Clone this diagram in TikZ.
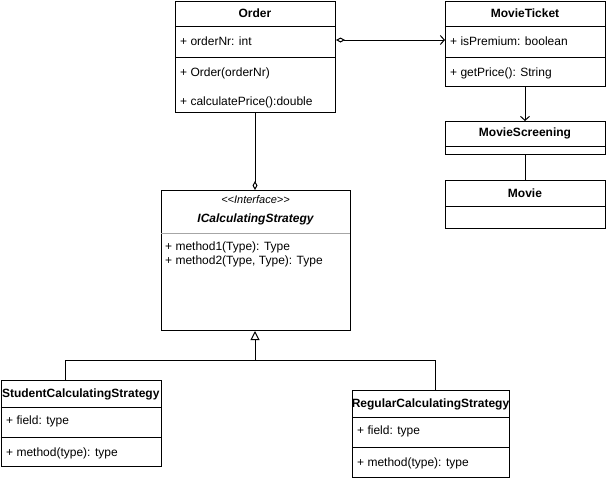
\documentclass[tikz,border=0pt]{standalone}
\usepackage{fontspec}
\setmainfont{Liberation Sans}
\usetikzlibrary{arrows.meta}
\tikzset{
  x=1pt, y=-1pt,
  umlbox/.style={draw, line width=1pt, inner sep=0pt, anchor=north west},
  sepline/.style={line width=1pt},
  graysep/.style={line width=1pt, draw=gray!70},
  title/.style={font=\fontsize{12}{14}\selectfont\bfseries, inner sep=0pt, anchor=center},
  member/.style={font=\fontsize{12}{14}\selectfont, inner sep=0pt, anchor=west},
  conn/.style={line width=1pt},
}
\begin{document}
\begin{tikzpicture}
\useasboundingbox (0,0) rectangle (606,480);
% Order
\node[umlbox, minimum width=160pt, minimum height=111.5pt] (order) at (175,0.5) {};
\draw[sepline] (175,26) -- (335,26);
\draw[sepline] (175,57) -- (335,57);
\node[title] (ordert) at (255,13) {Order};
\node[member] (orderm1) at (180,41) {+ orderNr: int};
\node[member] (orderm2) at (180,73) {+ Order(orderNr)};
\node[member] (orderm3) at (180,102) {+ calculatePrice():double};
% MovieTicket
\node[umlbox, minimum width=160pt, minimum height=85.5pt] (ticket) at (445,0.5) {};
\draw[sepline] (445,26) -- (605,26);
\draw[sepline] (445,57) -- (605,57);
\node[title] (tickett) at (525,13) {MovieTicket};
\node[member] (ticketm1) at (450,41) {+ isPremium: boolean};
\node[member] (ticketm2) at (450,73) {+ getPrice(): String};
% MovieScreening
\node[umlbox, minimum width=160pt, minimum height=33pt] (screening) at (445,121) {};
\draw[sepline] (445,146) -- (605,146);
\node[title] (screeningt) at (525,133.5) {MovieScreening};
% Movie
\node[umlbox, minimum width=160pt, minimum height=48pt] (movie) at (445,180) {};
\draw[sepline] (445,206) -- (605,206);
\node[title] (moviet) at (525,193) {Movie};
% Interface
\node[umlbox, minimum width=189pt, minimum height=140pt] (iface) at (161,190) {};
\draw[graysep] (161,233) -- (350,233);
\node[inner sep=0pt, font=\fontsize{11}{13}\selectfont\itshape] (ifaces) at (255.5,200) {<\kern0pt<Interface>\kern0pt>};
\node[title, font=\fontsize{12}{14}\selectfont\bfseries\itshape] (ifacet) at (255.5,219) {ICalculatingStrategy};
\node[member] (ifacem1) at (165,247) {+ method1(Type): Type};
\node[member] (ifacem2) at (165,261) {+ method2(Type, Type): Type};
% Student
\node[umlbox, minimum width=160.5pt, minimum height=86pt] (student) at (0.5,380) {};
\draw[sepline] (0.5,407) -- (161,407);
\draw[sepline] (0.5,437) -- (161,437);
\node[title] (studentt) at (80.75,394) {StudentCalculatingStrategy};
\node[member] (studentm1) at (6,421) {+ field: type};
\node[member] (studentm2) at (6,453) {+ method(type): type};
% Regular
\node[umlbox, minimum width=157pt, minimum height=87pt] (regular) at (352,390) {};
\draw[sepline] (352,417) -- (509,417);
\draw[sepline] (352,447) -- (509,447);
\node[title] (regulart) at (430.5,404) {RegularCalculatingStrategy};
\node[member] (regularm1) at (357,431) {+ field: type};
\node[member] (regularm2) at (357,463) {+ method(type): type};
% connectors
\draw[conn, {Diamond[open,length=9pt,width=5pt]}-{Straight Barb[length=4pt,width=9pt]}] (order.east |- 0,40) -- (ticket.west |- 0,40);
\draw[conn, -{Straight Barb[length=4pt,width=9pt]}] (ticket.south -| 525,0) -- (screening.north -| 525,0);
\draw[conn] (screening.south -| 525,0) -- (movie.north -| 525,0);
\draw[conn, -{Diamond[open,length=9pt,width=5pt]}] (order.south -| 255,0) -- (iface.north -| 255,0);
\coordinate (junction) at (255,360);
\draw[conn, -{Triangle[open,length=9pt,width=9pt]}] (student.north -| 65,0) -- (65,360) -- (junction) -- (iface.south -| 255,0);
\draw[conn] (regular.north -| 435,0) -- (435,360) -- (junction);
\end{tikzpicture}
\end{document}
